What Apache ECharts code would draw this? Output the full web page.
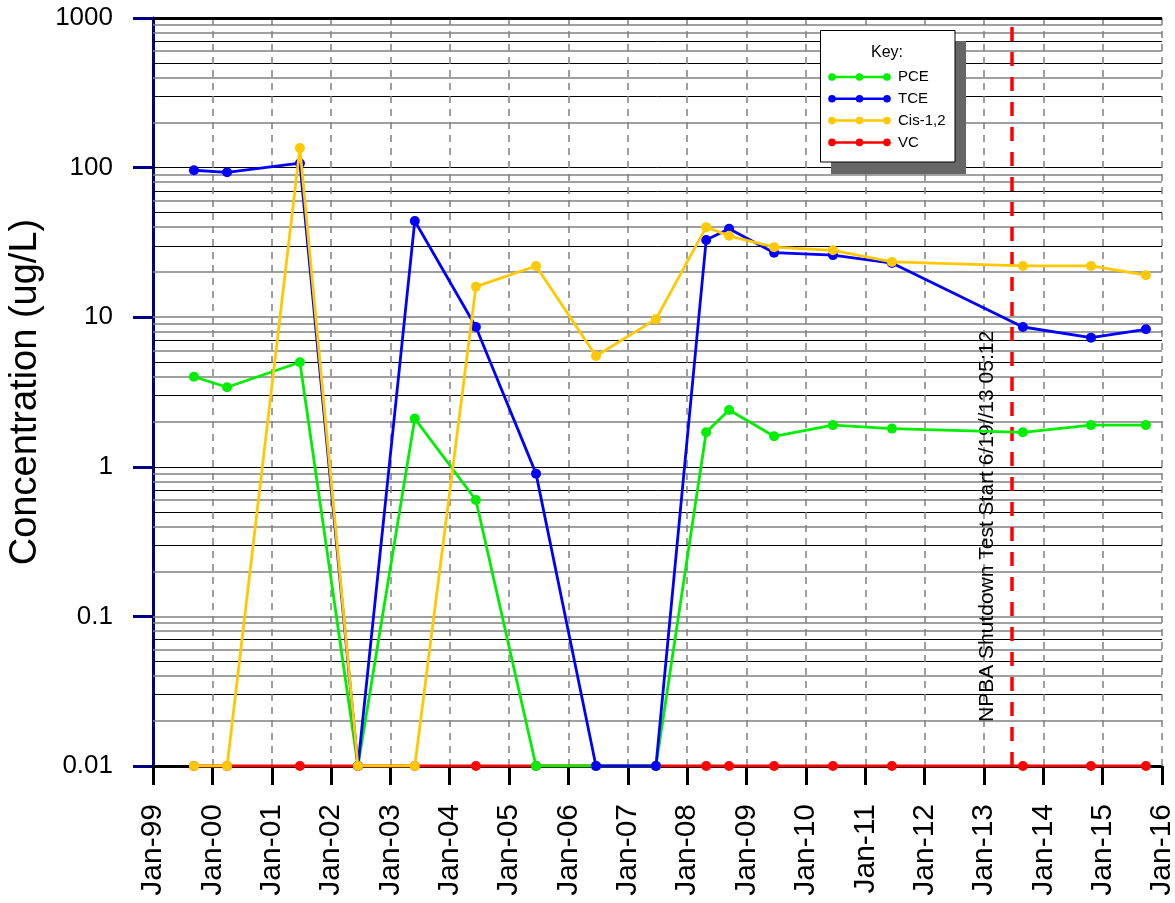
<!DOCTYPE html>
<html>
<head>
<meta charset="utf-8">
<script src="https://cdn.jsdelivr.net/npm/echarts@6/dist/echarts.min.js"></script>
<style>
html,body{margin:0;padding:0;background:#fff;}
#c{width:1175px;height:903px;}
</style>
</head>
<body>
<div id="c"></div>
<script>
// ---- data ----
var sampleDates = ['1999-09-10','2000-04-01','2001-06-23','2002-06-15','2003-05-31','2004-06-10','2005-06-15','2006-06-19','2007-06-23','2008-04-27','2008-09-15','2009-06-19','2010-06-16','2011-06-14','2013-08-28','2014-10-21','2015-09-24'];
var pce = [4.0, 3.4, 5.0, 0.01, 2.1, 0.6, 0.01, 0.01, 0.01, 1.7, 2.4, 1.6, 1.9, 1.8, 1.7, 1.9, 1.9];
var tce = [96, 93, 107, 0.01, 44, 8.6, 0.9, 0.01, 0.01, 32.8, 39, 27, 26, 23, 8.6, 7.3, 8.3];
var cis = [0.01, 0.01, 135, 0.01, 0.01, 16, 22, 5.5, 9.7, 40, 35, 29.4, 28, 23.4, 22, 22, 19.1];
var vc  = [0.01, 0.01, 0.01, 0.01, 0.01, 0.01, 0.01, 0.01, 0.01, 0.01, 0.01, 0.01, 0.01, 0.01, 0.01, 0.01, 0.01];
var seriesNames = ['PCE', 'TCE', 'Cis-1,2', 'VC'];
var xTickDates = ['1999-01-01','2000-01-01','2001-01-01','2002-01-01','2003-01-01','2004-01-01','2005-01-01','2006-01-01','2007-01-01','2008-01-01','2009-01-01','2010-01-01','2011-01-01','2012-01-01','2013-01-01','2014-01-01','2015-01-01','2016-01-01'];
var xTickLabels = ['Jan-99','Jan-00','Jan-01','Jan-02','Jan-03','Jan-04','Jan-05','Jan-06','Jan-07','Jan-08','Jan-09','Jan-10','Jan-11','Jan-12','Jan-13','Jan-14','Jan-15','Jan-16'];
var yTickValues = [0.01, 0.1, 1, 10, 100, 1000];
var yTickLabels = ['0.01', '0.1', '1', '10', '100', '1000'];
var shutdownDate = '2013-06-19';
var shutdownLabel = 'NPBA Shutdown Test Start 6/19//13 05:12';
var yTitle = 'Concentration (ug/L)';
var keyTitle = 'Key:';

// ---- helpers ----
function ts(s) { var p = s.split('-'); return Date.UTC(+p[0], +p[1] - 1, +p[2]); }
var xTickTs = xTickDates.map(ts);
function pairs(vals) { return sampleDates.map(function (d, i) { return [ts(d), vals[i]]; }); }

var colors = { 'PCE': '#00ee00', 'TCE': '#0000ff', 'Cis-1,2': '#ffc800', 'VC': '#ff0000' };
var valuesByName = { 'PCE': pce, 'TCE': tce, 'Cis-1,2': cis, 'VC': vc };
var FONT = '"Liberation Sans", Arial, sans-serif';

// horizontal grid lines (2..9 within each decade + decades)
var darkMult = { 3: true, 5: true, 7: true };
var gridLineData = [];
for (var e = -2; e < 3; e++) {
  for (var m = 2; m <= 9; m++) {
    var v = m * Math.pow(10, e);
    gridLineData.push({ yAxis: v, lineStyle: darkMult[m] ? { color: '#000', width: 1, type: 'solid' } : { color: '#808080', width: 1.6, type: 'solid' } });
  }
}
[0.1, 1, 10, 100].forEach(function (v, i) {
  gridLineData.push({ yAxis: v, lineStyle: (i % 2) ? { color: '#000', width: 1, type: 'solid' } : { color: '#808080', width: 1.6, type: 'solid' } });
});
// vertical dashed grid lines at each January
xTickTs.slice(1).forEach(function (t) {
  gridLineData.push({ xAxis: t, lineStyle: { color: '#808080', width: 1.5, type: [7, 6] } });
});
gridLineData.push({ yAxis: 1000, lineStyle: { color: '#000', width: 3, type: 'solid' } });

function mkSeries(name, z) {
  return {
    name: name, type: 'line', data: pairs(valuesByName[name]),
    symbol: 'circle', symbolSize: 10, showSymbol: true, z: z,
    itemStyle: { color: colors[name] },
    lineStyle: { color: colors[name], width: 2.8 },
    emphasis: { disabled: true }, silent: true
  };
}

var chart = echarts.init(document.getElementById('c'), null, { renderer: 'canvas' });

// legend (graphic)
var legendItems = [];
legendItems.push({ type: 'rect', shape: { x: 831, y: 41, width: 135, height: 133 }, style: { fill: '#666666' }, z: 100 });
legendItems.push({ type: 'rect', shape: { x: 820.5, y: 30.5, width: 134.5, height: 131.5 }, style: { fill: '#fff', stroke: '#000', lineWidth: 1 }, z: 101 });
legendItems.push({ type: 'text', x: 887, y: 53, style: { text: keyTitle, fill: '#000', font: '16px ' + FONT, align: 'center', verticalAlign: 'middle' }, z: 102 });
seriesNames.forEach(function (n, i) {
  var yy = 77 + 21.8 * i;
  legendItems.push({ type: 'line', shape: { x1: 832, y1: yy, x2: 887, y2: yy }, style: { stroke: colors[n], lineWidth: 2.5 }, z: 102 });
  [832, 859.5, 887].forEach(function (xx) {
    legendItems.push({ type: 'circle', shape: { cx: xx, cy: yy, r: 3.8 }, style: { fill: colors[n] }, z: 103 });
  });
  legendItems.push({ type: 'text', x: 898, y: yy, style: { text: n, fill: '#000', font: '15px ' + FONT, verticalAlign: 'middle' }, z: 102 });
});

var option = {
  animation: false,
  backgroundColor: '#fff',
  textStyle: { fontFamily: FONT },
  grid: { left: 153, right: 13, top: 18, bottom: 137, containLabel: false, outerBoundsMode: 'none' },
  xAxis: {
    type: 'value',
    min: xTickTs[0], max: xTickTs[xTickTs.length - 1],
    axisLine: { show: true, onZero: false, lineStyle: { color: '#000', width: 3 } },
    axisTick: { show: true, length: 19, lineStyle: { color: '#000', width: 3 }, customValues: xTickTs },
    axisLabel: {
      customValues: xTickTs, rotate: 90, fontSize: 30, color: '#000', margin: 38, fontFamily: FONT,
      formatter: function (val) {
        var best = 0;
        for (var i = 0; i < xTickTs.length; i++) { if (Math.abs(xTickTs[i] - val) < Math.abs(xTickTs[best] - val)) best = i; }
        return xTickLabels[best];
      }
    },
    splitLine: { show: false }
  },
  yAxis: {
    type: 'log', logBase: 10, min: 0.01, max: 1000,
    name: yTitle, nameLocation: 'middle', nameGap: 104, nameRotate: 90,
    nameTextStyle: { fontSize: 38, color: '#000', fontFamily: FONT },
    axisLine: { show: true, lineStyle: { color: '#000080', width: 3 } },
    axisTick: { show: true, length: 20, lineStyle: { color: '#000080', width: 3 } },
    axisLabel: {
      fontSize: 26, color: '#000', margin: 40, fontFamily: FONT,
      formatter: function (val) {
        var k = Math.log(val) / Math.LN10;
        for (var i = 0; i < yTickValues.length; i++) { if (Math.abs(Math.log(yTickValues[i]) / Math.LN10 - k) < 1e-3) return yTickLabels[i]; }
        return '';
      }
    },
    splitLine: { show: false }
  },
  graphic: legendItems,
  series: [
    {
      name: 'grid', type: 'line', data: [], silent: true, z: 1,
      markLine: { silent: true, symbol: ['none', 'none'], label: { show: false }, animation: false, data: gridLineData }
    },
    {
      name: 'shutdown', type: 'line', data: [], silent: true, z: 5,
      markLine: {
        silent: true, symbol: ['none', 'none'], animation: false,
        lineStyle: { color: '#ff0000', width: 3.5, type: [14, 11] },
        label: { show: true, position: 'insideStartTop', formatter: shutdownLabel, fontSize: 21, color: '#000', distance: [44, 14], fontFamily: FONT },
        data: [{ xAxis: ts(shutdownDate) }]
      }
    },
    mkSeries('VC', 10),
    mkSeries('PCE', 11),
    mkSeries('TCE', 12),
    mkSeries('Cis-1,2', 13)
  ]
};
chart.setOption(option);
</script>
</body>
</html>
